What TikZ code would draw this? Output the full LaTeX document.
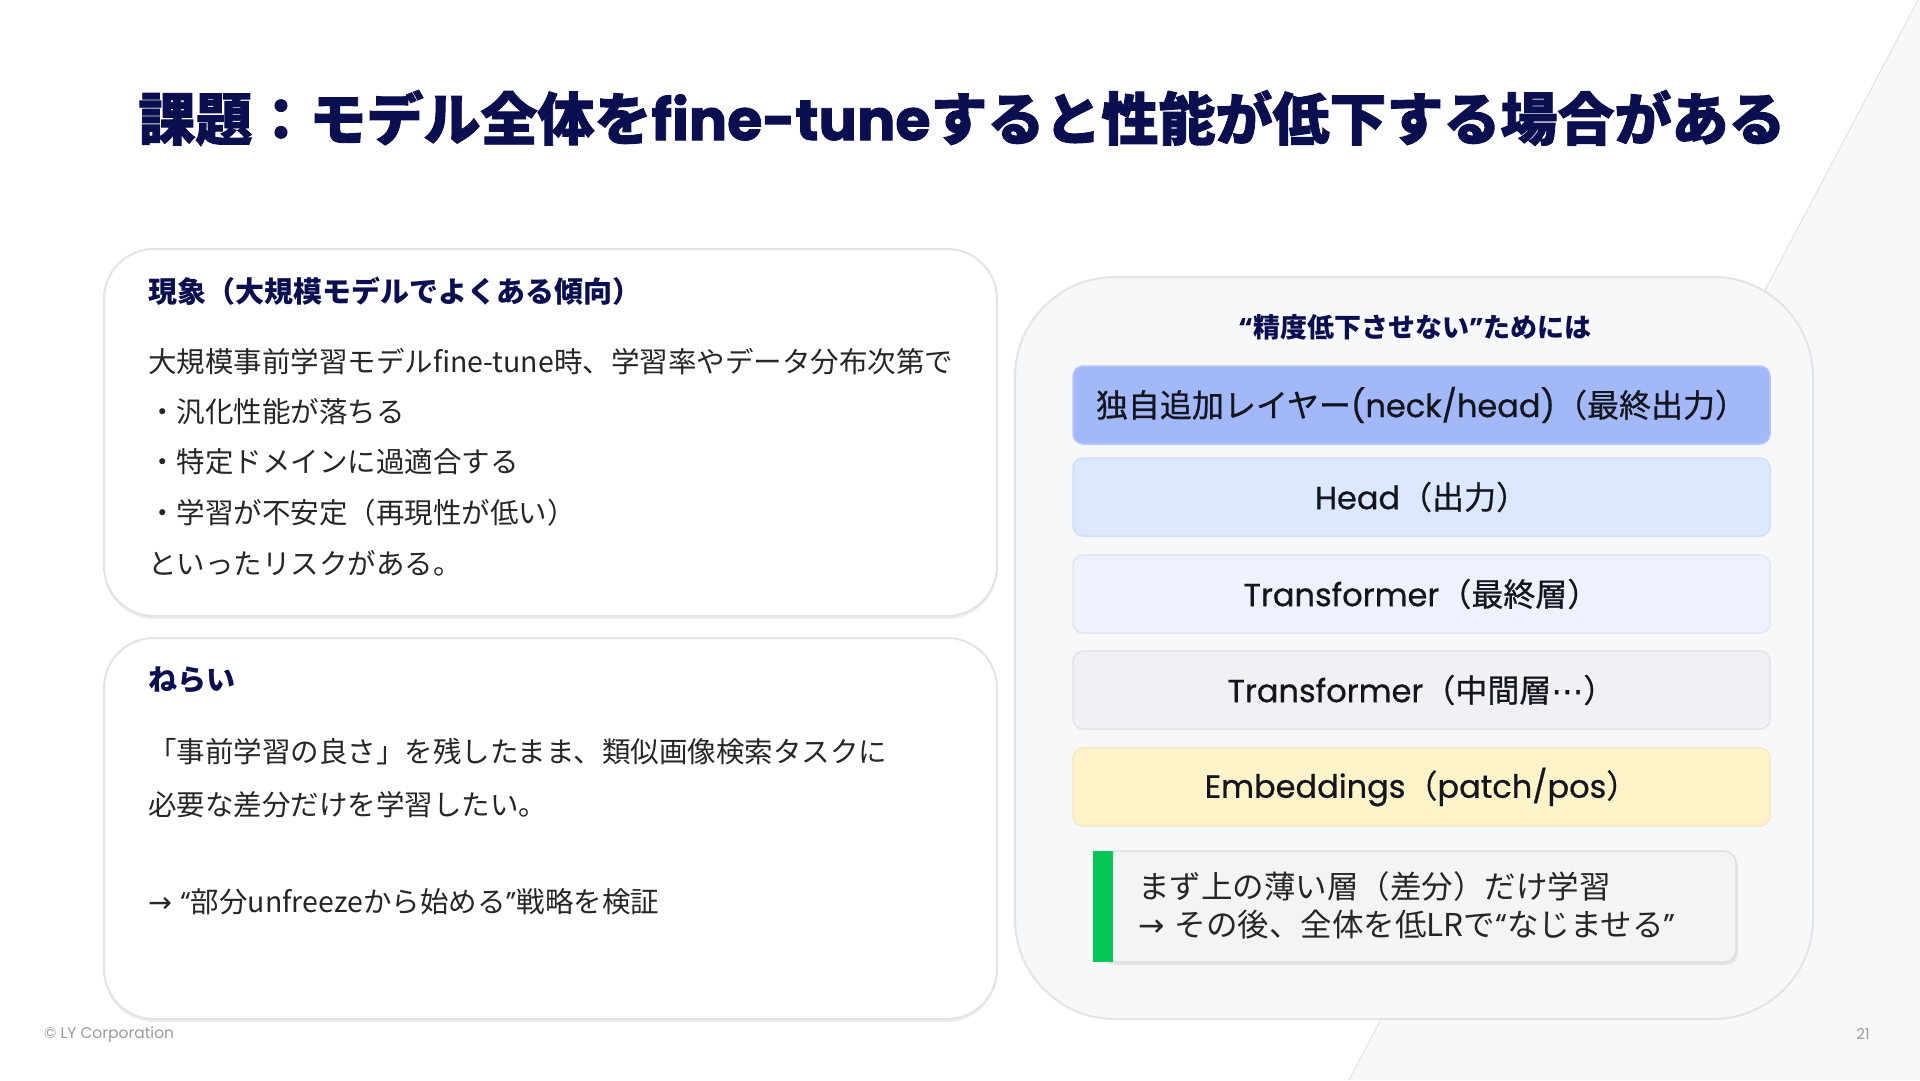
\documentclass[tikz,border=0pt]{standalone}
\usepackage{fontspec}
\usetikzlibrary{shadows}
\setmainfont{Noto Sans CJK JP}
\newfontfamily\cjk{Noto Sans CJK JP}
\newfontfamily\cjkfb{Noto Sans CJK JP}[FakeBold=1.6]
\newfontfamily\cjkmed{Noto Sans CJK JP}[FakeBold=0.7]
\newfontfamily\pop{Poppins}
\newfontfamily\popfb{Poppins}[FakeBold=1.6]
\newfontfamily\popmed{Poppins}[FakeBold=0.7]
\newfontfamily\dv{DejaVu Sans}
\newfontfamily\dvmed{DejaVu Sans}[FakeBold=0.7]
\definecolor{navy}{HTML}{0B0E4F}
\definecolor{bodytxt}{HTML}{262626}
\definecolor{cardline}{HTML}{E4E4E4}
\definecolor{panelfill}{HTML}{F7F8FA}
\definecolor{panelline}{HTML}{E2E4E8}
\definecolor{bgtri}{HTML}{F8F8F9}
\definecolor{bgline}{HTML}{E3E3E3}
\definecolor{layA}{HTML}{A3B8F8}
\definecolor{layAline}{HTML}{B6C7F8}
\definecolor{layB}{HTML}{DCE8FD}
\definecolor{layBline}{HTML}{D2DFF6}
\definecolor{layC}{HTML}{EEF2FD}
\definecolor{layCline}{HTML}{E1E6F2}
\definecolor{layD}{HTML}{F0F1F4}
\definecolor{layDline}{HTML}{E2E4E9}
\definecolor{layE}{HTML}{FFF3CA}
\definecolor{layEline}{HTML}{F5E9C2}
\definecolor{lgreen}{HTML}{06C755}
\definecolor{notefill}{HTML}{F3F4F6}
\definecolor{noteline}{HTML}{DDE0E4}
\definecolor{foot}{HTML}{9B9B9B}
\definecolor{labeltxt}{HTML}{14161F}
\newcommand{\oq}{{\pop “}}
\newcommand{\cq}{{\pop ”}}
\newcommand{\boq}{{\pop\bfseries “}}
\newcommand{\bcq}{{\pop\bfseries ”}}
\begin{document}
\begin{tikzpicture}[x=1pt,y=-1pt,
  card/.style={draw=cardline, line width=2pt, fill=white, rounded corners=50pt,
    drop shadow={shadow xshift=0pt, shadow yshift=-3pt, fill=black, opacity=0.07}},
  panel/.style={draw=panelline, line width=2pt, fill=panelfill, rounded corners=100pt},
  layer/.style={line width=1.5pt, rounded corners=10pt, minimum width=697pt,
    minimum height=78pt, text=labeltxt, font=\cjkmed\fontsize{32}{38}\selectfont},
  notebox/.style={draw=noteline, line width=1.5pt, fill=notefill, rounded corners=12pt,
    drop shadow={shadow xshift=2pt, shadow yshift=-3pt, fill=black, opacity=0.08}},
  head/.style={anchor=west, inner sep=0pt, text=navy, font=\cjk\bfseries\fontsize{29}{34}\selectfont},
  body/.style={anchor=west, inner sep=0pt, text=bodytxt, font=\cjk\fontsize{28.5}{34}\selectfont},
  notetxt/.style={anchor=west, inner sep=0pt, text=bodytxt, font=\cjk\fontsize{31.5}{36}\selectfont}
]
\useasboundingbox (0,0) rectangle (1920,1080);
\fill[white] (0,0) rectangle (1920,1080);
\fill[bgtri] (1918,0) -- (1349,1080) -- (1920,1080) -- (1920,0) -- cycle;
\draw[bgline, line width=1pt] (1918,0) -- (1349,1080);

% title
\node[text=navy, inner sep=0pt] (title) at (962,118)
  {\cjkfb\bfseries\fontsize{57}{68}\selectfont 課題：モデル全体を{\popfb\bfseries fine-tune}すると性能が低下する場合がある};

% left cards
\node[card, minimum width=893pt, minimum height=367pt] (cardA) at (550.5,432.5) {};
\node[card, minimum width=893pt, minimum height=381pt] (cardB) at (550.5,828.5) {};

\node[head] (hA) at (148,291) {現象（大規模モデルでよくある傾向）};
\node[body] (a1) at (148,362) {大規模事前学習モデルfine-tune時、学習率やデータ分布次第で};
\node[body] (a2) at (148,412) {・汎化性能が落ちる};
\node[body] (a3) at (148,462) {・特定ドメインに過適合する};
\node[body] (a4) at (148,513) {・学習が不安定（再現性が低い）};
\node[body] (a5) at (148,563) {といったリスクがある。};

\node[head] (hB) at (148,680) {ねらい};
\node[body] (b1) at (148,752) {「事前学習の良さ」を残したまま、類似画像検索タスクに};
\node[body] (b2) at (148,805) {必要な差分だけを学習したい。};
\node[body] (b3) at (148,902) {{\dv →}\hspace{8pt}\oq 部分unfreezeから始める\cq 戦略を検証};

% right panel
\node[panel, minimum width=798pt, minimum height=742pt] (panel) at (1414,648) {};
\node[text=navy, inner sep=0pt, font=\cjk\bfseries\fontsize{27}{32}\selectfont] (rt) at (1415,327)
  {\boq 精度低下させない\bcq ためには};

\node[layer, fill=layA, draw=layAline] (l1) at (1421.5,405)
  {独自追加レイヤー{\popmed (neck/head)}（最終出力）};
\node[layer, fill=layB, draw=layBline] (l2) at (1421.5,497)
  {{\popmed Head}（出力）};
\node[layer, fill=layC, draw=layCline] (l3) at (1421.5,594)
  {{\popmed Transformer}（最終層）};
\node[layer, fill=layD, draw=layDline] (l4) at (1421.5,690)
  {{\popmed Transformer}（中間層{\dvmed ⋯}）};
\node[layer, fill=layE, draw=layEline] (l5) at (1421.5,787)
  {{\popmed Embeddings}（{\popmed patch/pos}）};

\node[notebox, minimum width=636pt, minimum height=111pt] (note) at (1418,906.5) {};
\fill[lgreen] (1093,851) rectangle (1113,962);
\node[notetxt] (n1) at (1138,887) {まず上の薄い層（差分）だけ学習};
\node[notetxt] (n2) at (1138,925) {{\dv →}\hspace{10pt}その後、全体を低LRで\oq なじませる\cq};

% footer
\node[anchor=west, inner sep=0pt, text=foot, font=\pop\fontsize{15.5}{18}\selectfont] (copy) at (44,1035) {© LY Corporation};
\node[inner sep=0pt, text=foot, font=\pop\fontsize{15}{18}\selectfont] (pg) at (1863,1034) {21};
\end{tikzpicture}
\end{document}
